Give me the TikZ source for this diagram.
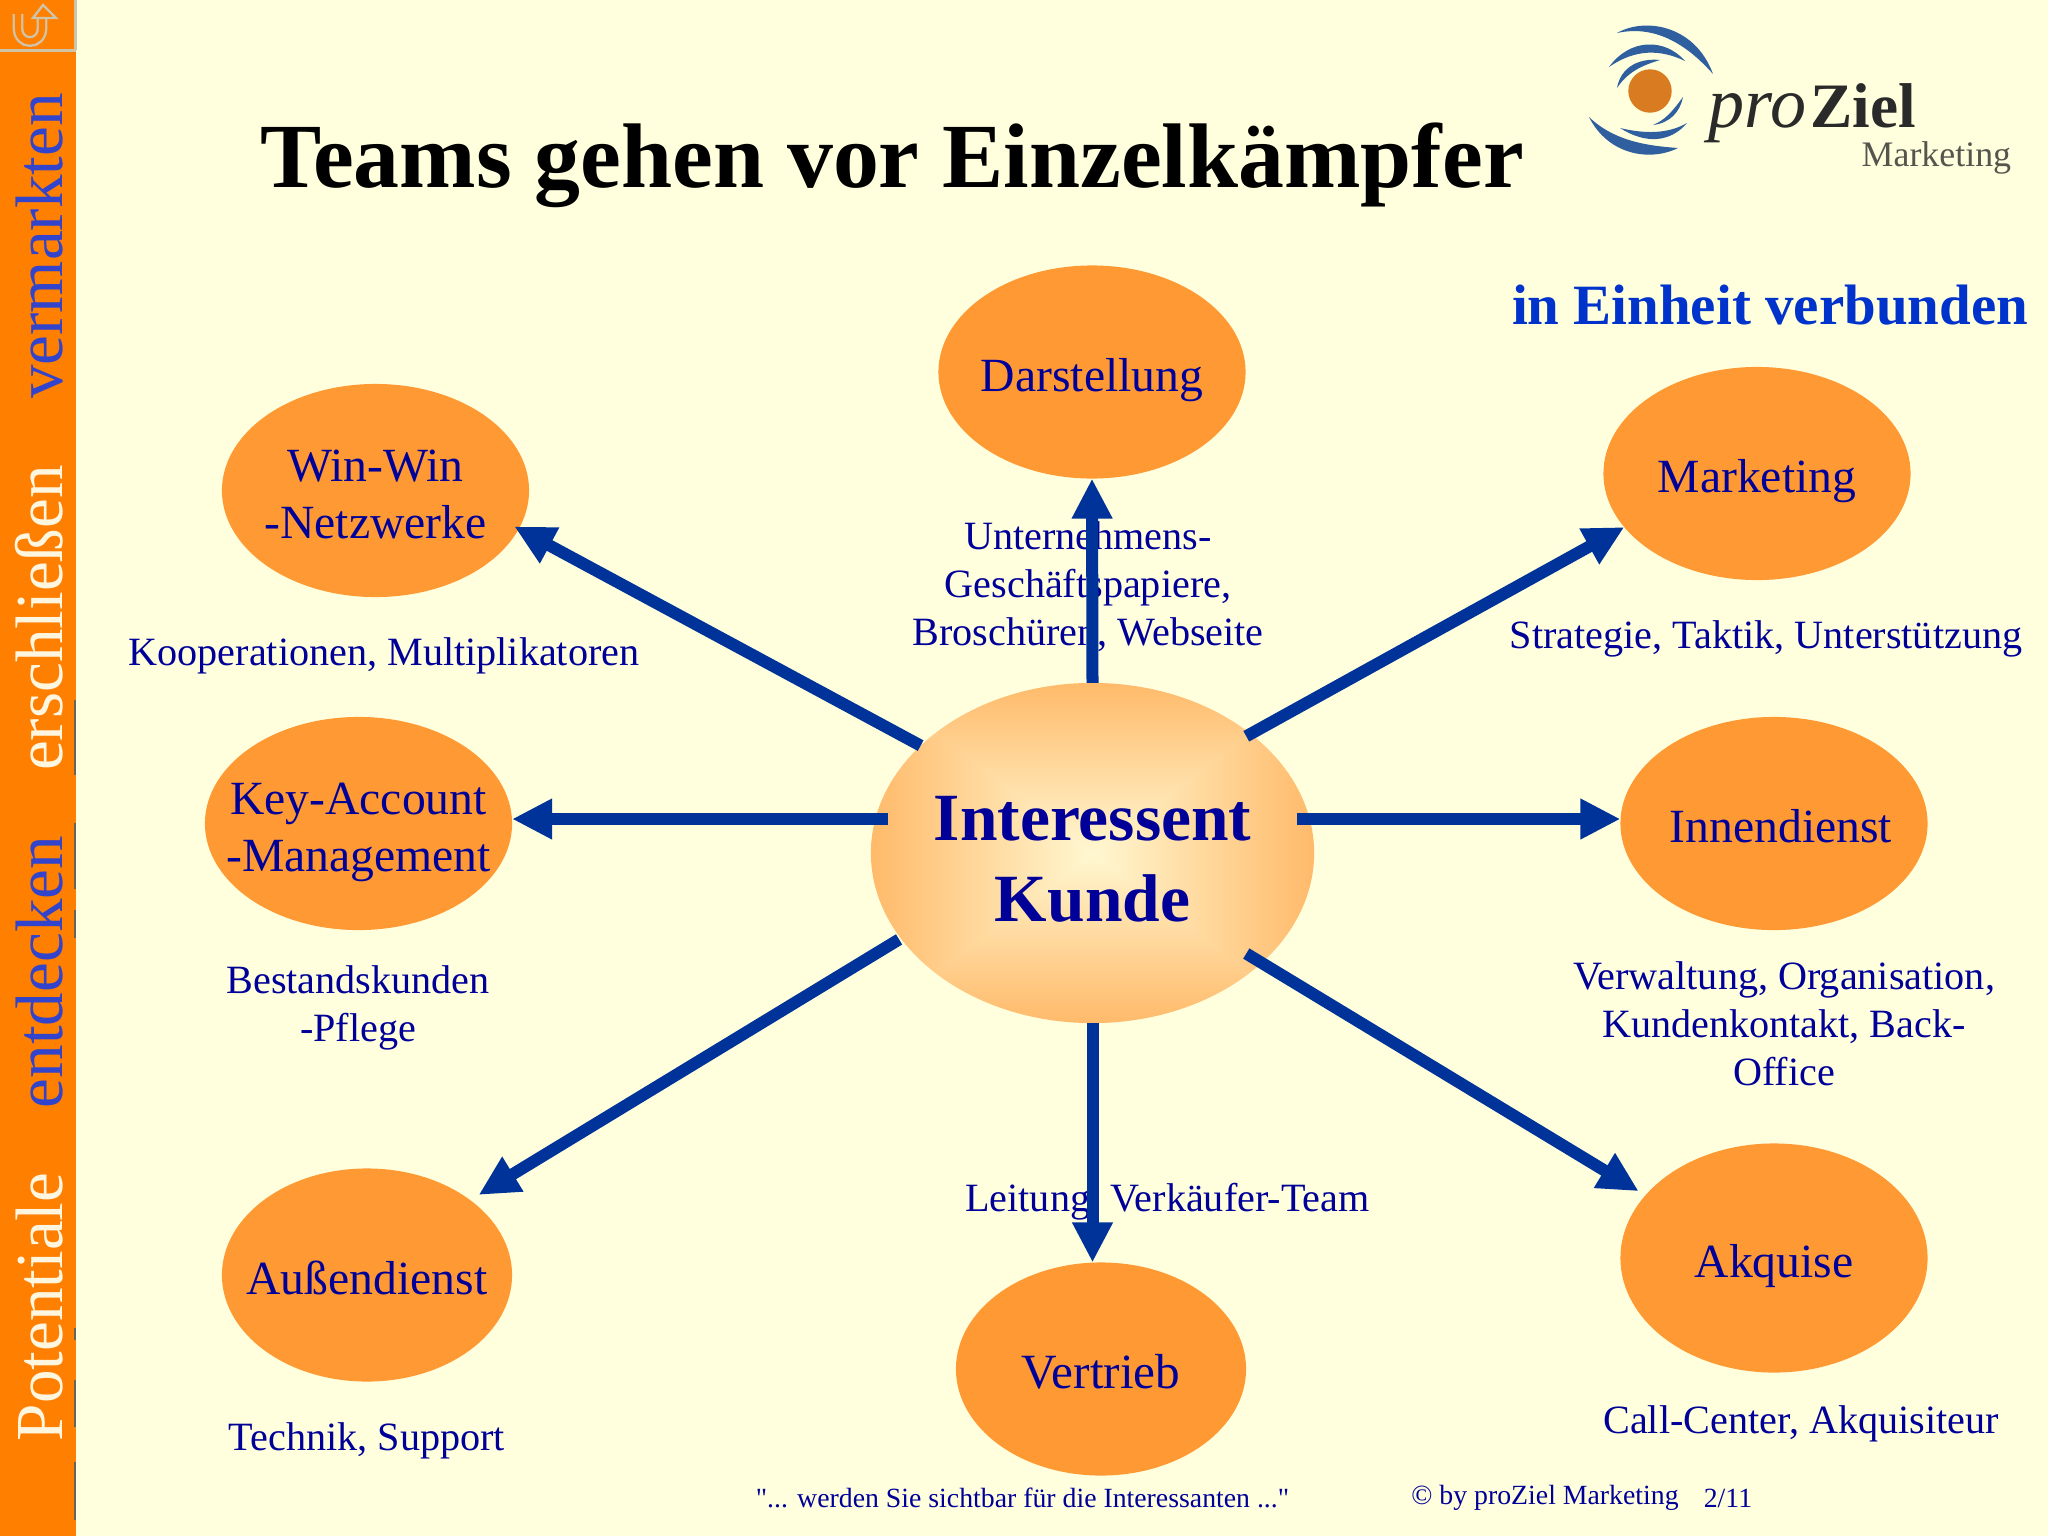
\documentclass[tikz,border=0pt]{standalone}
\usepackage{fontspec}
\setmainfont{Liberation Serif}
\newfontfamily\rawserif{Liberation Serif}
\usetikzlibrary{shapes.geometric,arrows.meta,calc}
\definecolor{bgc}{HTML}{FFFFDD}
\definecolor{sidec}{HTML}{FF7F00}
\definecolor{ovalc}{HTML}{FF9933}
\definecolor{arrowc}{HTML}{003399}
\definecolor{textc}{HTML}{000099}
\definecolor{headc}{HTML}{0033CC}
\definecolor{sideblue}{HTML}{3344CC}
\definecolor{sidewhite}{HTML}{FFF6E0}
\definecolor{iconc}{HTML}{CFC4A8}
\definecolor{logob}{HTML}{2F5F9F}
\definecolor{logoo}{HTML}{D97B20}
\definecolor{logod}{HTML}{2A2A2A}
\pgfdeclarefunctionalshading{glow}{\pgfpoint{-50bp}{-50bp}}{\pgfpoint{50bp}{50bp}}{}{
 abs exch abs 2 copy lt {exch} if pop 35.36 div
 1 exch dup 0.34 mul 0.97 exch sub exch 0.57 mul 0.82 exch sub
}
\newcommand{\ctext}[2][4.4pt]{\vbox{\kern#1\hbox{\makebox[0pt]{\begin{tabular}{@{}c@{}}#2\end{tabular}}}}}
\tikzset{
  oval/.style={ellipse,fill=ovalc,draw=none,inner sep=0pt,outer sep=0pt,text=textc,
    font=\fontsize{13.55}{16.3}\selectfont,minimum width=3.07cm,minimum height=2.13cm},
  desc/.style={text=textc,inner sep=0pt,align=center,font=\fontsize{11.42}{13.6}\selectfont},
  foot/.style={text=textc,inner sep=0pt,font=\rawserif\fontsize{7.9}{10}\selectfont},
  ray/.style={draw=arrowc,line width=.12cm,-{Triangle[width=.38cm,length=.40cm]}},
  sidetext/.style={rotate=90,anchor=base,inner sep=0pt,font=\fontsize{19.1}{22}\selectfont},
  swoosh/.style={fill=logob,draw=none},
  seam/.style={draw=black!60!bgc,line width=.012cm}
}
\begin{document}
\begin{tikzpicture}[x=0.01cm,y=-0.01cm]
\useasboundingbox (0,0) rectangle (2048,1536);
\fill[bgc] (0,0) rectangle (2048,1536);
% side bar
\fill[sidec] (0,0) rectangle (76,1536);
\draw[iconc,line width=.03cm] (0,50) -- (76,50);
\draw[iconc,line width=.03cm] (75,0) -- (75,50);
\foreach \a/\b in {700/775,823/889,910/938,1328/1340,1380/1427,1462/1520}
  \draw[seam] (75,\a) -- (75,\b);
\draw[iconc,line width=.024cm,double=sidec,double distance=.06cm] (18,14) -- (18,28) .. controls (18,46) and (42,46) .. (42,28) -- (42,18);
\draw[iconc,line width=.024cm,fill=sidec] (43,5) -- (56,18) -- (33,18) -- cycle;
\node[sidetext,text=sideblue] (s1) at (62,246) {vermarkten};
\node[sidetext,text=sidewhite] (s2) at (62,618) {erschließen};
\node[sidetext,text=sideblue] (s3) at (62,972) {entdecken};
\node[sidetext,text=sidewhite] (s4) at (62,1307) {Potentiale};
% title
\node[anchor=base,inner sep=0pt,font=\fontsize{26.1}{30}\selectfont\bfseries] (title) at (892,187) {Teams gehen vor Einzelkämpfer};
\node[anchor=base,inner sep=0pt,text=headc,font=\fontsize{16.2}{20}\selectfont\bfseries] (head) at (1770,324.5) {in Einheit verbunden};
% logo
\fill[logoo] (1650,91) circle[radius=21.7];
\fill[swoosh] (1617,33) .. controls (1645,17) and (1695,25) .. (1713,74) .. controls (1690,48) and (1658,24) .. cycle;
\fill[swoosh] (1609,67) .. controls (1630,38) and (1665,38) .. (1685,61) .. controls (1660,49) and (1635,49) .. cycle;
\fill[swoosh] (1617,88) .. controls (1621,66) and (1640,58) .. (1660,60) .. controls (1640,66) and (1627,73) .. cycle;
\fill[swoosh] (1589,117) .. controls (1608,155) and (1650,162) .. (1678,148) .. controls (1650,146) and (1615,142) .. cycle;
\fill[swoosh] (1620,128) .. controls (1645,144) and (1670,143) .. (1687,123) .. controls (1668,134) and (1645,134) .. cycle;
\fill[swoosh] (1653,125) .. controls (1670,123) and (1680,112) .. (1683,97) .. controls (1672,112) and (1665,120) .. cycle;
\node[anchor=base west,inner sep=0pt,text=logod,font=\fontsize{20.5}{24}\selectfont\itshape] (lg1) at (1708,127) {pro};
\node[anchor=base west,inner sep=0pt,text=logod,font=\fontsize{18}{22}\selectfont\bfseries] (lg2) at (1810,127) {Ziel};
\node[anchor=base west,inner sep=0pt,text=logod!80!bgc,font=\fontsize{10.2}{12}\selectfont] (lg3) at (1861,166) {Marketing};
% descriptions
\node[desc] (d1) at (1088,586.5) {Unternehmens-\\Geschäftspapiere,\\Broschüren, Webseite};
\node[desc] (d2) at (1766,639) {Strategie, Taktik, Unterstützung};
\node[desc] (d3) at (384,656) {Kooperationen, Multiplikatoren};
\node[desc] (d4) at (358,1008) {Bestandskunden\\-Pflege};
\node[desc] (d5) at (1784,1024) {Verwaltung, Organisation,\\Kundenkontakt, Back-\\Office};
\node[desc] (d6) at (367,1441) {Technik, Support};
\node[desc] (d7) at (1801,1424) {Call-Center, Akquisiteur};
\node[desc] (d8) at (1167.5,1202) {Leitung, Verkäufer-Team};
% ovals
\node[oval] (dar) at (1092,372) {\ctext{Darstellung}};
\node[oval] (win) at (375.5,490.5) {\ctext{Win-Win\\-Netzwerke}};
\node[oval] (mkt) at (1757,473.5) {\ctext{Marketing}};
\node[oval] (key) at (358.5,823.5) {\ctext{Key-Account\\-Management}};
\node[oval] (inn) at (1774,823.5) {\ctext{\kern 4pt Innendienst}};
\node[oval,minimum width=2.9cm] (aus) at (367,1275) {\ctext{Außendienst}};
\node[oval,minimum width=2.9cm,font=\fontsize{14}{16.3}\selectfont] (ver) at (1101,1369) {\ctext{Vertrieb}};
\node[oval,minimum height=2.29cm] (akq) at (1774,1258) {\ctext{Akquise}};
\node[ellipse,shade,shading=glow,inner sep=0pt,outer sep=0pt,minimum width=4.43cm,minimum height=3.40cm,text=textc,font=\fontsize{19.2}{23}\selectfont\bfseries] (c) at (1092.5,853) {\ctext[6.6pt]{Interessent\\Kunde}};
% connectors
\coordinate (rs) at (1297,819);
\coordinate (ls) at (888,819);
\draw[ray] (c.north) -- (dar.south);
\draw[ray,shorten <=-.05cm] (c.37.9) -- (mkt.202);
\draw[ray] (rs) -- (rs -| inn.west);
\draw[ray,shorten <=-.18cm,shorten >=.08cm] (c.-33.7) -- (akq.154.7);
\draw[ray] (c.south) -- (c.south |- ver.north);
\draw[ray,shorten <=.02cm,shorten >=.10cm] (c.204.9) -- (aus.36.3);
\draw[ray] (ls) -- (ls -| key.east);
\draw[ray,shorten >=-.05cm] (c.148.9) -- (win.-15.3);
% footer
\node[foot] (f1) at (1022.5,1498) {"... werden Sie sichtbar für die Interessanten ..."};
\node[foot] (f2) at (1545,1498) {© by proZiel Marketing};
\node[foot] (f3) at (1728,1498) {2/11};
\end{tikzpicture}
\end{document}
